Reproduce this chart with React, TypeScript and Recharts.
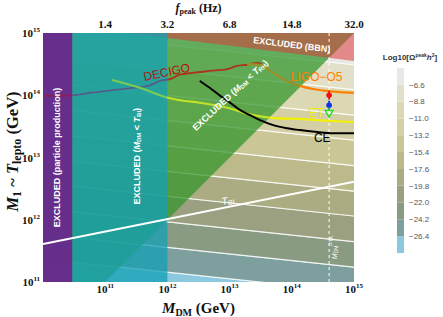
import React from 'react';
import { ComposedChart, Area, Line, Scatter, XAxis, YAxis, BarChart, Bar } from 'recharts';

// ---------- data (log10 values) ----------
const xTicks = [11, 12, 13, 14, 15];
const yTicks = [11, 12, 13, 14, 15];
const fPeakLabels = ['1.4', '3.2', '6.8', '14.8', '32.0'];

// contour lines of log10(Omega h^2): log10 M1 at x = 10 (left edge) and x = 15 (right edge), bottom -> top
const contourAtLeft = [11.37, 11.77, 12.18, 12.59, 12.99, 13.4, 13.81, 14.21, 14.62, 15.02];
const contourAtRight = [10.84, 11.24, 11.65, 12.06, 12.46, 12.87, 13.28, 13.68, 14.09, 14.49];
const bandFloor = 10;
const bandCeiling = 16;
const bandColors = ['#8cc8de', '#7da09e', '#8a9b84', '#9ba080', '#acac82', '#bcb98a', '#cac696', '#d4cfa5', '#dcd8b4', '#e2e0c8', '#e8e8e6'];
const colorbarTicks = ['−26.4', '−24.2', '−22.0', '−19.8', '−17.6', '−15.4', '−13.2', '−11.0', '−8.8', '−6.6'];

// exclusion regions
const particleProduction = [{ x: 10, r: [11, 15] }, { x: 10.47, r: [11, 15] }];
const mdmBelowTbi = [{ x: 10.47, r: [11, 15] }, { x: 12, r: [11, 15] }];
const mdmBelowTrh = [{ x: 10, r: [11, 15] }, { x: 11, r: [11, 15] }, { x: 15, r: [15, 15] }];
const bbn = [{ x: 11.35, r: [15, 15.2] }, { x: 15, r: [14.55, 15.2] }];

// region edges used for curve colouring
const purpleEdge = 10.47;
const tealEdge = 12;
const etDiagonalCross = 13.65;
const ligoDiagonalCross = 14.13;

// detector sensitivity curves
const decigo = [
  { x: 10.0, y: 13.99 }, { x: 10.48, y: 14.0 }, { x: 10.76, y: 14.04 }, { x: 11.03, y: 14.07 },
  { x: 11.29, y: 14.1 }, { x: 11.56, y: 14.13 }, { x: 11.72, y: 14.16 }, { x: 11.88, y: 14.23 },
  { x: 12.04, y: 14.26 }, { x: 12.2, y: 14.33 }, { x: 12.41, y: 14.36 }, { x: 12.68, y: 14.39 },
  { x: 12.96, y: 14.42 }, { x: 13.12, y: 14.47 }, { x: 13.28, y: 14.49 }, { x: 13.44, y: 14.52 },
  { x: 13.52, y: 14.5 },
];
const et = [
  { x: 11.11, y: 14.245 }, { x: 11.56, y: 14.12 }, { x: 12.01, y: 13.96 }, { x: 12.2, y: 13.92 },
  { x: 12.52, y: 13.88 }, { x: 12.96, y: 13.8 }, { x: 13.38, y: 13.68 }, { x: 13.76, y: 13.63 },
  { x: 14.13, y: 13.62 }, { x: 14.57, y: 13.59 }, { x: 15.0, y: 13.57 },
];
const ligo = [
  { x: 13.28, y: 14.5 }, { x: 13.49, y: 14.49 }, { x: 13.7, y: 14.36 }, { x: 13.92, y: 14.23 },
  { x: 14.13, y: 14.15 }, { x: 14.34, y: 14.1 }, { x: 14.57, y: 14.07 }, { x: 14.77, y: 14.05 },
  { x: 15.0, y: 14.04 },
];
const ce = [
  { x: 12.52, y: 14.23 }, { x: 12.68, y: 14.12 }, { x: 12.85, y: 13.99 }, { x: 13.01, y: 13.88 },
  { x: 13.17, y: 13.76 }, { x: 13.33, y: 13.68 }, { x: 13.49, y: 13.6 }, { x: 13.7, y: 13.52 },
  { x: 13.92, y: 13.47 }, { x: 14.13, y: 13.44 }, { x: 14.41, y: 13.41 }, { x: 14.66, y: 13.39 },
  { x: 15.0, y: 13.39 },
];
const tbi = [{ x: 10, y: 11.61 }, { x: 15, y: 12.61 }];
const ptaMass = [{ x: 14.6, y: 11 }, { x: 14.6, y: 15 }];
const ptaRed = [{ x: 14.6, y: 14.0 }];
const ptaBlue = [{ x: 14.6, y: 13.84 }];
const ptaGreen = [{ x: 14.6, y: 13.71 }];
const topAxisAnchor = [{ x: 10, y: 13 }, { x: 15, y: 13 }];

// annotation anchors (data coordinates)
const annotations = [
  { id: 'decigo', x: 11.99, y: 14.37 },
  { id: 'ligo', x: 14.4, y: 14.29 },
  { id: 'et', x: 14.39, y: 13.71 },
  { id: 'ce', x: 14.49, y: 13.31 },
  { id: 'bbn', x: 14.0, y: 14.81 },
  { id: 'trh', x: 13.01, y: 14.0 },
  { id: 'tbiRegion', x: 11.51, y: 13.02 },
  { id: 'particle', x: 10.225, y: 13.0 },
  { id: 'tbiLabel', x: 12.97, y: 12.31 },
  { id: 'pta', x: 14.68, y: 11.55 },
];

// ---------- helpers ----------
const serif = '"Liberation Serif", "Times New Roman", serif';
const sans = '"Liberation Sans", Arial, sans-serif';

const bands = bandColors.map((color, i) => {
  const loL = i === 0 ? bandFloor : contourAtLeft[i - 1];
  const loR = i === 0 ? bandFloor : contourAtRight[i - 1];
  const hiL = i === bandColors.length - 1 ? bandCeiling : contourAtLeft[i];
  const hiR = i === bandColors.length - 1 ? bandCeiling : contourAtRight[i];
  return { color, data: [{ x: 10, r: [loL, hiL] }, { x: 15, r: [loR, hiR] }] };
});

function gradientStops(data: { x: number }[], edges: number[], colors: string[]) {
  const xmin = data[0].x;
  const xmax = data[data.length - 1].x;
  const stops: React.ReactNode[] = [];
  let prev = 0;
  colors.forEach((c, i) => {
    const end = i < edges.length ? (edges[i] - xmin) / (xmax - xmin) : 1;
    stops.push(<stop key={`a${i}`} offset={prev} stopColor={c} />);
    stops.push(<stop key={`b${i}`} offset={end} stopColor={c} />);
    prev = end;
  });
  return stops;
}

const LeftTick = (p: any) => (
  <text x={p.x} y={p.y + 4} textAnchor="end" fontFamily={serif} fontWeight="bold" fontSize={11} fill="#111">
    10<tspan fontSize={7} dy={-5}>{p.payload.value}</tspan>
  </text>
);
const BottomTick = (p: any) => (
  <text x={p.x} y={p.y + 8} textAnchor="middle" fontFamily={serif} fontWeight="bold" fontSize={11} fill="#111">
    10<tspan fontSize={7} dy={-5}>{p.payload.value}</tspan>
  </text>
);
const TopTick = (p: any) => (
  <text x={p.x} y={p.y} textAnchor="middle" fontFamily={serif} fontWeight="bold" fontSize={11} fill="#111">
    {fPeakLabels[xTicks.indexOf(p.payload.value)]}
  </text>
);

const bottomTitle = (p: any) => {
  const vb = p.viewBox;
  return (
    <text x={vb.x + vb.width / 2} y={vb.y + 31} textAnchor="middle" fontFamily={serif} fontWeight="bold" fontSize={15} fill="#111">
      <tspan fontStyle="italic">M</tspan>
      <tspan fontSize={10} dy={3}>DM</tspan>
      <tspan dy={-3}> (GeV)</tspan>
    </text>
  );
};
const topTitle = (p: any) => {
  const vb = p.viewBox;
  return (
    <text x={vb.x + vb.width / 2} y={vb.y + 9} textAnchor="middle" fontFamily={serif} fontWeight="bold" fontSize={12} fill="#111">
      <tspan fontStyle="italic">f</tspan>
      <tspan fontSize={8} dy={2}>peak</tspan>
      <tspan dy={-2}> (Hz)</tspan>
    </text>
  );
};
const leftTitle = (p: any) => {
  const vb = p.viewBox;
  const cx = vb.x + 15;
  const cy = vb.y + vb.height / 2 - 6;
  return (
    <text x={cx} y={cy} transform={`rotate(-90, ${cx}, ${cy})`} textAnchor="middle" fontFamily={serif} fontWeight="bold" fontSize={16.5} fill="#111">
      <tspan fontStyle="italic">M</tspan>
      <tspan fontSize={12} dy={3}>1</tspan>
      <tspan dy={-3}> ~ </tspan>
      <tspan fontStyle="italic">T</tspan>
      <tspan fontSize={12} dy={3}>lepto</tspan>
      <tspan dy={-3}> (GeV)</tspan>
    </text>
  );
};

const rot = (a: number, x: number, y: number) => `rotate(${a}, ${x}, ${y})`;

const renderAnnotation = (id: string) => (p: any) => {
  const { cx, cy } = p;
  const common = { x: cx, y: cy, textAnchor: 'middle' as const, dominantBaseline: 'central' as const };
  switch (id) {
    case 'decigo':
      return <text {...common} transform={rot(-12, cx, cy)} fontFamily={sans} fontSize={12} fill="#b3120f">DECIGO</text>;
    case 'ligo':
      return <text {...common} fontFamily={sans} fontSize={12} fill="#ff8000">LIGO−O5</text>;
    case 'et':
      return <text {...common} fontFamily={sans} fontSize={12} fill="#eef000">ET</text>;
    case 'ce':
      return <text {...common} fontFamily={sans} fontSize={12} fill="#000">CE</text>;
    case 'bbn':
      return <text {...common} transform={rot(7, cx, cy)} fontFamily={sans} fontWeight="bold" fontSize={9} fill="#fff">EXCLUDED (BBN)</text>;
    case 'trh':
      return (
        <text {...common} transform={rot(-43, cx, cy)} fontFamily={sans} fontWeight="bold" fontSize={9} fill="#fff">
          EXCLUDED (<tspan fontStyle="italic">M</tspan><tspan fontSize={6} dy={2}>DM</tspan><tspan dy={-2}> &lt; </tspan>
          <tspan fontStyle="italic">T</tspan><tspan fontSize={6} dy={2}>RH</tspan><tspan dy={-2}>)</tspan>
        </text>
      );
    case 'tbiRegion':
      return (
        <text {...common} transform={rot(-90, cx, cy)} fontFamily={sans} fontWeight="bold" fontSize={9} fill="#fff">
          EXCLUDED (<tspan fontStyle="italic">M</tspan><tspan fontSize={6} dy={2}>DM</tspan><tspan dy={-2}> &lt; </tspan>
          <tspan fontStyle="italic">T</tspan><tspan fontSize={6} dy={2}>BI</tspan><tspan dy={-2}>)</tspan>
        </text>
      );
    case 'particle':
      return <text {...common} transform={rot(-90, cx, cy)} fontFamily={sans} fontWeight="bold" fontSize={9} fill="#fff">EXCLUDED (particle production)</text>;
    case 'tbiLabel':
      return (
        <text {...common} transform={rot(-11, cx, cy)} fontFamily={sans} fontStyle="italic" fontSize={10} fill="#fff">
          T<tspan fontSize={7} dy={2}>BI</tspan>
        </text>
      );
    case 'pta':
      return (
        <text {...common} transform={rot(-90, cx, cy)} fontFamily={sans} fontSize={7} fill="#fff">
          <tspan fontStyle="italic">M</tspan><tspan fontSize={5} dy={2}>DM</tspan><tspan fontSize={5} dy={-5}>PTA</tspan>
        </text>
      );
    default:
      return <g />;
  }
};

const filledMarker = (color: string) => (p: any) => (
  <g>
    <line x1={p.cx} y1={p.cy - 4.5} x2={p.cx} y2={p.cy + 4.5} stroke={color} strokeWidth={1.8} />
    <circle cx={p.cx} cy={p.cy} r={2.8} fill={color} />
  </g>
);
const openMarker = (color: string) => (p: any) => (
  <g>
    <line x1={p.cx} y1={p.cy - 6} x2={p.cx} y2={p.cy - 3} stroke={color} strokeWidth={1.3} />
    <path d={`M ${p.cx - 4} ${p.cy - 3} L ${p.cx + 4} ${p.cy - 3} L ${p.cx} ${p.cy + 4} Z`} fill="none" stroke={color} strokeWidth={1.3} />
  </g>
);

const colorbarRow: Record<string, number | string> = { name: 'cb' };
bandColors.forEach((_, i) => { colorbarRow[`s${i}`] = 1; });

export default function App() {
  return (
    <div style={{ position: 'absolute', left: 0, top: 0, width: 443, height: 317, background: '#fff', overflow: 'hidden' }}>
      <ComposedChart width={443} height={317} margin={{ top: 3, right: 89, bottom: 5, left: 3 }}>
        <defs>
          <linearGradient id="gDecigo" x1="0" y1="0" x2="1" y2="0">
            {gradientStops(decigo, [purpleEdge, tealEdge], ['#8a1d5c', '#515d8a', '#a8341a'])}
          </linearGradient>
          <linearGradient id="gEt" x1="0" y1="0" x2="1" y2="0">
            {gradientStops(et, [tealEdge, etDiagonalCross], ['#78cc55', '#c2e22a', '#f2f200'])}
          </linearGradient>
          <linearGradient id="gLigo" x1="0" y1="0" x2="1" y2="0">
            {gradientStops(ligo, [ligoDiagonalCross], ['#9c8e2a', '#ff8000'])}
          </linearGradient>
        </defs>
        <XAxis
          xAxisId={0}
          type="number"
          dataKey="x"
          domain={[10, 15]}
          ticks={xTicks}
          allowDataOverflow
          height={30}
          tickSize={0}
          tickMargin={3}
          axisLine={false}
          tickLine={false}
          tick={BottomTick}
          label={bottomTitle}
        />
        <XAxis
          xAxisId="top"
          orientation="top"
          type="number"
          dataKey="x"
          domain={[10, 15]}
          ticks={xTicks}
          allowDataOverflow
          height={30}
          tickSize={0}
          tickMargin={5}
          axisLine={false}
          tickLine={false}
          tick={TopTick}
          label={topTitle}
        />
        <YAxis
          type="number"
          dataKey="y"
          domain={[11, 15]}
          ticks={yTicks}
          allowDataOverflow
          width={40}
          tickSize={0}
          tickMargin={3}
          axisLine={false}
          tickLine={false}
          tick={LeftTick}
          label={leftTitle}
        />

        {bands.map((b, i) => (
          <Area
            key={`band${i}`}
            data={b.data}
            dataKey="r"
            type="linear"
            fill={b.color}
            fillOpacity={1}
            stroke="#ffffff"
            strokeOpacity={0.75}
            strokeWidth={1.2}
            isAnimationActive={false}
            dot={false}
            activeDot={false}
          />
        ))}
        <Area data={mdmBelowTrh} dataKey="r" type="linear" fill="#2f9428" fillOpacity={0.72} stroke="none" isAnimationActive={false} dot={false} activeDot={false} />
        <Area data={bbn} dataKey="r" type="linear" fill="#dc3c3c" fillOpacity={0.55} stroke="none" isAnimationActive={false} dot={false} activeDot={false} />
        <Area data={mdmBelowTbi} dataKey="r" type="linear" fill="#14a0b6" fillOpacity={0.76} stroke="none" isAnimationActive={false} dot={false} activeDot={false} />
        <Area data={particleProduction} dataKey="r" type="linear" fill="#672a8e" fillOpacity={0.96} stroke="none" isAnimationActive={false} dot={false} activeDot={false} />

        <Line data={topAxisAnchor} xAxisId="top" dataKey="y" stroke="none" dot={false} activeDot={false} isAnimationActive={false} />
        <Line data={decigo} dataKey="y" type="monotone" stroke="url(#gDecigo)" strokeWidth={1.8} dot={false} activeDot={false} isAnimationActive={false} />
        <Line data={et} dataKey="y" type="monotone" stroke="url(#gEt)" strokeWidth={2.2} dot={false} activeDot={false} isAnimationActive={false} />
        <Line data={ligo} dataKey="y" type="monotone" stroke="url(#gLigo)" strokeWidth={2.2} dot={false} activeDot={false} isAnimationActive={false} />
        <Line data={ce} dataKey="y" type="monotone" stroke="#000" strokeWidth={2} dot={false} activeDot={false} isAnimationActive={false} />
        <Line data={tbi} dataKey="y" type="linear" stroke="#fff" strokeWidth={2} dot={false} activeDot={false} isAnimationActive={false} />
        <Line data={ptaMass} dataKey="y" type="linear" stroke="#fff" strokeWidth={1} strokeDasharray="3 3" dot={false} activeDot={false} isAnimationActive={false} />

        <Scatter data={ptaRed} dataKey="y" shape={filledMarker('#ee1111')} isAnimationActive={false} />
        <Scatter data={ptaBlue} dataKey="y" shape={filledMarker('#1133ee')} isAnimationActive={false} />
        <Scatter data={ptaGreen} dataKey="y" shape={openMarker('#22dd22')} isAnimationActive={false} />
        {annotations.map((a) => (
          <Scatter key={a.id} data={[a]} dataKey="y" shape={renderAnnotation(a.id)} isAnimationActive={false} />
        ))}
      </ComposedChart>

      <svg style={{ position: 'absolute', left: 370, top: 48 }} width={73} height={16}>
        <text x={40} y={12} textAnchor="middle" fontFamily={sans} fontWeight="bold" fontSize={8} fill="#333">
          Log10[Ω<tspan fontSize={5} dy={-3}>peak</tspan><tspan fontStyle="italic" dy={3}>h</tspan><tspan fontSize={5} dy={-3}>2</tspan><tspan dy={3}>]</tspan>
        </text>
      </svg>
      <div style={{ position: 'absolute', left: 390, top: 60 }}>
        <BarChart width={50} height={200} data={[colorbarRow]} margin={{ top: 8, bottom: 7, left: 4, right: 0 }}>
          <XAxis dataKey="name" hide />
          <YAxis
            orientation="right"
            type="number"
            domain={[0, 11]}
            ticks={[1, 2, 3, 4, 5, 6, 7, 8, 9, 10]}
            allowDataOverflow
            width={33}
            tickSize={0}
            tickMargin={2}
            axisLine={false}
            tickLine={false}
            tick={{ fontSize: 8, fill: '#555', fontFamily: sans }}
            tickFormatter={(v: number) => colorbarTicks[v - 1]}
          />
          {bandColors.map((c, i) => (
            <Bar key={`cb${i}`} dataKey={`s${i}`} stackId="cb" fill={c} barSize={7} isAnimationActive={false} />
          ))}
        </BarChart>
      </div>
    </div>
  );
}
